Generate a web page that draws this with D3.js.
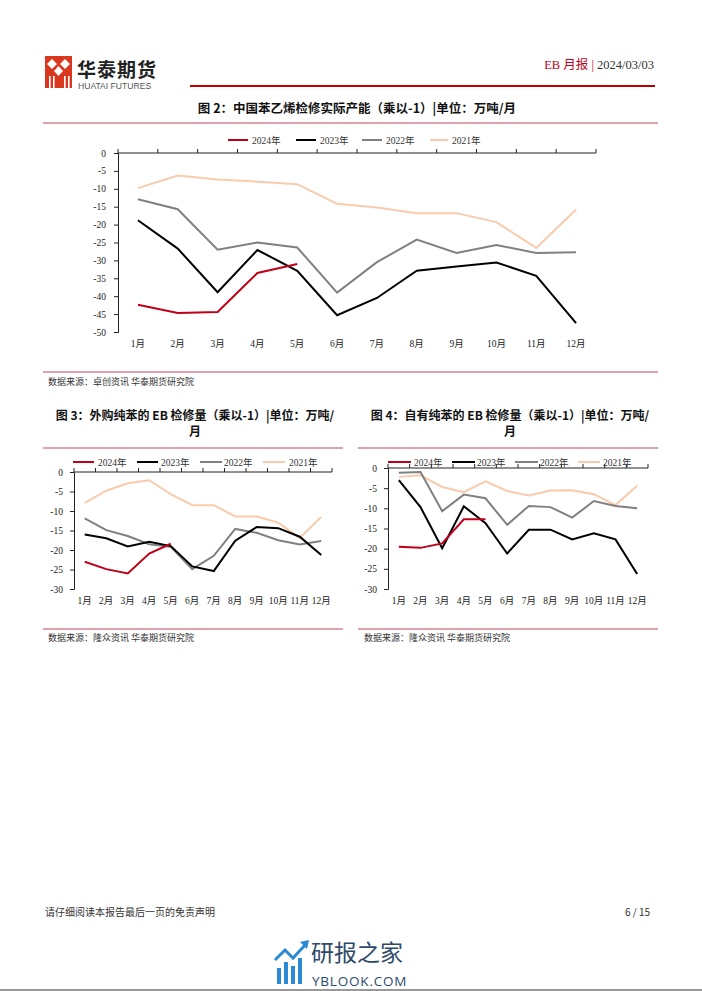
<!DOCTYPE html>
<html><head><meta charset="utf-8">
<script src="https://cdn.jsdelivr.net/npm/d3@7"></script>
<style>body{margin:0;background:#fff;}svg{display:block;}</style>
</head><body>
<script>
const months = ["1月","2月","3月","4月","5月","6月","7月","8月","9月","10月","11月","12月"];
const seriesNames = ["2024年","2023年","2022年","2021年"];
const seriesColors = ["#c0001a","#000000","#808080","#f8cbad"];

// 图2
const c2_2024 = [-42.4,-44.7,-44.4,-33.5,-31.0];
const c2_2023 = [-18.8,-26.7,-38.9,-27.1,-32.9,-45.3,-40.5,-32.9,-31.7,-30.6,-34.3,-47.5];
const c2_2022 = [-12.9,-15.7,-27.0,-25.0,-26.4,-39.0,-30.5,-24.2,-27.9,-25.7,-27.9,-27.7];
const c2_2021 = [-9.8,-6.3,-7.4,-8.0,-8.7,-14.2,-15.2,-16.8,-16.8,-19.3,-26.5,-15.8];
const c2_ticks = [0,-5,-10,-15,-20,-25,-30,-35,-40,-45,-50];

// 图3
const c3_2024 = [-23.0,-24.9,-26.0,-20.9,-18.4];
const c3_2023 = [-16.0,-17.0,-19.1,-17.9,-19.0,-24.2,-25.4,-17.6,-14.1,-14.4,-16.6,-21.3];
const c3_2022 = [-11.9,-14.9,-16.4,-18.5,-19.2,-24.9,-21.5,-14.6,-15.6,-17.5,-18.6,-17.7];
const c3_2021 = [-7.9,-4.8,-2.9,-2.1,-5.7,-8.5,-8.5,-11.4,-11.4,-13.0,-16.9,-11.5];
const c3_ticks = [0,-5,-10,-15,-20,-25,-30];

// 图4
const c4_2024 = [-19.5,-19.8,-18.7,-12.7,-12.7];
const c4_2023 = [-3.0,-9.7,-19.9,-9.5,-13.7,-21.2,-15.3,-15.3,-17.7,-16.2,-17.7,-26.3];
const c4_2022 = [-1.2,-1.0,-10.7,-6.6,-7.5,-14.1,-9.4,-9.7,-12.3,-8.2,-9.4,-10.0];
const c4_2021 = [-2.2,-1.8,-4.7,-6.0,-3.3,-5.7,-6.8,-5.6,-5.5,-6.5,-9.2,-4.4];
const c4_ticks = [0,-5,-10,-15,-20,-25,-30];

const W = 702, H = 991;
const svg = d3.select("body").append("svg").attr("width", W).attr("height", H);
const SANS = "'Noto Sans CJK SC','Noto Sans',sans-serif";
const SERIF = "'Liberation Serif','Noto Sans CJK SC',serif";

// ---------- header ----------
const logo = svg.append("g");
logo.append("rect").attr("x",45).attr("y",56).attr("width",27).attr("height",32).attr("fill","#d9381e");
[[52,64],[65,64]].forEach(([cx,cy])=>{
  logo.append("path").attr("d",`M${cx},${cy-5} L${cx+5},${cy} L${cx},${cy+5} L${cx-5},${cy} Z`).attr("fill","#fff");
});
logo.append("path").attr("d","M58.5,66 L63,71 L58.5,76 L54,71 Z").attr("fill","#fff");
[49,53,64,68].forEach(x=>logo.append("rect").attr("x",x).attr("y",76).attr("width",1.6).attr("height",12).attr("fill","#fff"));
svg.append("text").attr("x",77).attr("y",77).attr("font-family",SANS).attr("font-weight","bold")
  .attr("font-size",19).attr("fill","#222").attr("letter-spacing",1).text("华泰期货");
svg.append("text").attr("x",78).attr("y",89).attr("font-family","'Liberation Sans',Arial,sans-serif")
  .attr("font-size",8.6).attr("fill","#555").text("HUATAI FUTURES");
const hdr = svg.append("text").attr("x",654).attr("y",69).attr("text-anchor","end").attr("font-family",SERIF).attr("font-size",12.5);
hdr.append("tspan").attr("fill","#c0001a").text("EB 月报 | ");
hdr.append("tspan").attr("fill","#333").text(" 2024/03/03");
svg.append("line").attr("x1",190).attr("x2",655).attr("y1",86).attr("y2",86).attr("stroke","#c00000").attr("stroke-width",2);

// ---------- helpers ----------
function sepLine(x1,x2,y){
  svg.append("line").attr("x1",x1).attr("x2",x2).attr("y1",y).attr("y2",y).attr("stroke","#d6848f").attr("stroke-width",1.3);
}
function title(lines, cx, y0, fs){
  lines.forEach((t,i)=>svg.append("text").attr("x",cx).attr("y",y0+i*16).attr("text-anchor","middle")
    .attr("font-family",SANS).attr("font-weight","bold").attr("font-size",fs||12).attr("fill","#111").text(t));
}
function source(x,y,t){
  svg.append("text").attr("x",x).attr("y",y).attr("font-family",SANS).attr("font-size",9).attr("fill","#333").text(t);
}

function chart(cfg){
  const x = d3.scaleBand().domain(months).range([cfg.x0,cfg.x1]);
  const y = d3.scaleLinear().domain([cfg.ymin,0]).range([cfg.y1,cfg.y0]);
  const g = svg.append("g");
  const ya = g.append("g").attr("transform",`translate(${cfg.x0},0)`)
    .call(d3.axisLeft(y).tickValues(cfg.ticks).tickSize(4).tickPadding(cfg.ypad).tickFormat(d=>d));
  ya.selectAll("text").attr("font-family",SERIF).attr("font-size",cfg.fs).attr("fill","#222");
  ya.selectAll("path,line").attr("stroke","#222");
  const xa = g.append("g").attr("transform",`translate(0,${y(0)})`);
  xa.append("line").attr("x1",cfg.x0).attr("x2",cfg.x1).attr("stroke","#222");
  const edges = months.map(m=>x(m)+x.bandwidth()).concat([cfg.x0]);
  edges.forEach(e=>xa.append("line").attr("x1",e).attr("x2",e).attr("y1",0).attr("y2",-4).attr("stroke","#222"));
  g.selectAll("text.xl").data(months).enter().append("text").attr("class","xl")
    .attr("x",d=>x(d)+x.bandwidth()/2).attr("y",cfg.xly).attr("text-anchor","middle")
    .attr("font-family",SERIF).attr("font-size",cfg.fs).attr("fill","#222").text(d=>d);
  const line = d3.line().x((d,i)=>x(months[i])+x.bandwidth()/2).y(d=>y(d));
  for(let k=cfg.series.length-1;k>=0;k--){
    g.append("path").datum(cfg.series[k]).attr("d",line).attr("fill","none")
      .attr("stroke",seriesColors[k]).attr("stroke-width",2).attr("stroke-linejoin","miter");
  }
  cfg.legend.forEach((L,k)=>{
    g.append("line").attr("x1",L[0]).attr("x2",L[1]).attr("y1",cfg.ly).attr("y2",cfg.ly)
      .attr("stroke",seriesColors[k]).attr("stroke-width",2);
    g.append("text").attr("x",L[2]).attr("y",cfg.ly+3.5).attr("font-family",SERIF).attr("font-size",cfg.fs)
      .attr("fill","#333").text(seriesNames[k]);
  });
}

// ---------- 图2 ----------
title(["图 2：中国苯乙烯检修实际产能（乘以-1）|单位：万吨/月"],357,113,12.5);
sepLine(43,658,123);
chart({x0:118,x1:596,y0:153,y1:332,ymin:-50,ticks:c2_ticks,series:[c2_2024,c2_2023,c2_2022,c2_2021],
  fs:9.5,ypad:8,xly:347,ly:140,legend:[[228,248,252],[296,316,320],[362,382,386],[430,448,452]]});
sepLine(43,658,372);
source(48,385,"数据来源：卓创资讯  华泰期货研究院");

// ---------- 图3 ----------
title(["图 3：外购纯苯的 EB 检修量（乘以-1）|单位：万吨/","月"],195,420);
sepLine(43,343,448);
chart({x0:74,x1:332,y0:472,y1:589,ymin:-30,ticks:c3_ticks,series:[c3_2024,c3_2023,c3_2022,c3_2021],
  fs:9.5,ypad:7,xly:604,ly:462,legend:[[73,94,98],[137,158,161],[200,222,224],[263,285,289]]});
sepLine(43,343,629);
source(48,641,"数据来源：隆众资讯  华泰期货研究院");

// ---------- 图4 ----------
title(["图 4：自有纯苯的 EB 检修量（乘以-1）|单位：万吨/","月"],510,420);
sepLine(358,658,448);
chart({x0:388,x1:648,y0:468,y1:589,ymin:-30,ticks:c4_ticks,series:[c4_2024,c4_2023,c4_2022,c4_2021],
  fs:9.5,ypad:7,xly:604,ly:462,legend:[[388,411,414],[452,475,477],[515,538,540],[578,600,603]]});
sepLine(358,658,629);
source(364,641,"数据来源：隆众资讯  华泰期货研究院");

// ---------- footer ----------
svg.append("text").attr("x",45).attr("y",916).attr("font-family",SANS).attr("font-size",10).attr("fill","#333").text("请仔细阅读本报告最后一页的免责声明");
svg.append("text").attr("x",650).attr("y",916).attr("text-anchor","end").attr("font-family",SANS).attr("font-size",10).attr("fill","#333").text("6 / 15");

// watermark
const wm = svg.append("g");
[[277,968,4,16],[284,962,4,22],[291,966,4,18],[298,958,4,26]].forEach(([bx,by,bw,bh])=>
  wm.append("rect").attr("x",bx).attr("y",by).attr("width",bw).attr("height",bh).attr("fill","#2a8ad6"));
wm.append("path").attr("d","M275,960 L285,950 L293,958 L306,944").attr("fill","none").attr("stroke","#2a8ad6").attr("stroke-width",3);
wm.append("path").attr("d","M300,942 L309,940 L307,949 Z").attr("fill","#2a8ad6");
wm.append("text").attr("x",311).attr("y",961).attr("font-family",SANS).attr("font-size",23).attr("fill","#2d4a6b").text("研报之家");
wm.append("text").attr("x",312).attr("y",986).attr("font-family","'Open Sans','Noto Sans',sans-serif").attr("font-size",13.5).attr("fill","#2d4a6b").attr("letter-spacing",0.8).text("YBLOOK.COM");
svg.append("line").attr("x1",0).attr("x2",W).attr("y1",990).attr("y2",990).attr("stroke","#999").attr("stroke-width",2);
</script>
</body></html>
